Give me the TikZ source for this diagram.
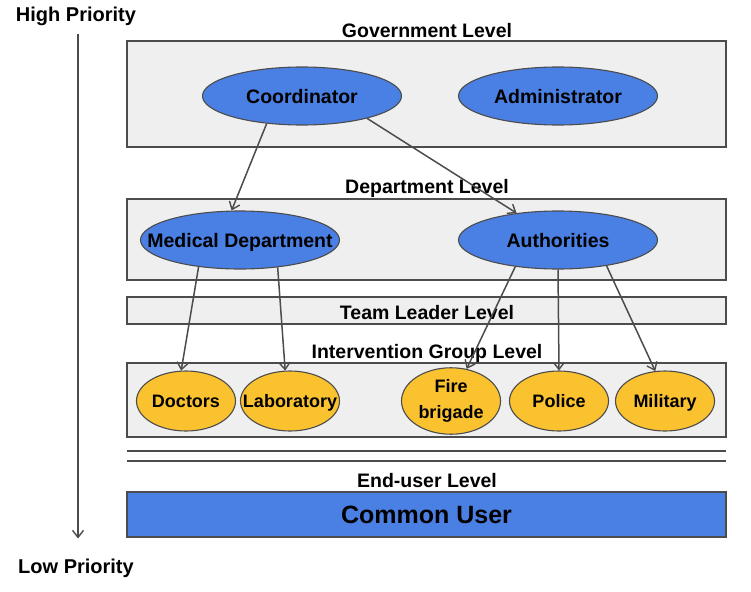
\documentclass[tikz,border=0pt]{standalone}
\usepackage{fontspec}
\setmainfont{Liberation Sans}
\usetikzlibrary{shapes.geometric,arrows.meta}
\definecolor{edge}{HTML}{4C4C4C}
\definecolor{panel}{HTML}{EFEFEF}
\definecolor{roleblue}{HTML}{4A80E4}
\definecolor{unityellow}{HTML}{FBC230}
% zero-size text box, capitals centred on the node centre, so the ellipse keeps its set size
\newcommand{\ctrtext}[1]{\makebox[0pt][c]{\raisebox{-0.36em}[0pt][0pt]{#1}}}
\tikzset{
  lbl/.style={font=\bfseries\fontsize{19.5}{23}\selectfont, inner sep=0pt},
  levelbox/.style={draw=edge, fill=panel, line width=1.3pt, minimum width=599pt, inner sep=0pt},
  role/.style={ellipse, draw=edge, fill=roleblue, line width=1.1pt, inner sep=0pt,
    minimum width=199pt, minimum height=58pt, font=\bfseries\fontsize{19.5}{23}\selectfont},
  unit/.style={ellipse, draw=edge, fill=unityellow, line width=1.1pt, inner sep=0pt,
    minimum width=99pt, minimum height=60pt, font=\bfseries\fontsize{18}{21}\selectfont},
  link/.style={draw=edge, line width=1.5pt, -{Straight Barb[length=7pt,width=11pt,line width=1.4pt]}}
}
\begin{document}
\begin{tikzpicture}[x=1pt,y=-1pt]
\useasboundingbox (0,0) rectangle (751,591);
\fill[white] (0,0) rectangle (751,591);

% priority axis
\node[lbl, font=\bfseries\fontsize{20}{24}\selectfont] (hp) at (76,16) {High Priority};
\node[lbl, font=\bfseries\fontsize{20}{24}\selectfont] (lp) at (76,568) {Low Priority};
\draw[link] ([xshift=2pt,yshift=-8pt]hp.south) -- ([xshift=2pt,yshift=20pt]lp.north);

% level panels
\node[levelbox, minimum height=106pt] (gov) at (426.5,94) {};
\node[levelbox, minimum height=81pt] (dept) at (426.5,239.5) {};
\node[levelbox, minimum height=27pt] (team) at (426.5,310.5) {};
\node[levelbox, minimum height=74pt] (interv) at (426.5,400) {};
\node[draw=edge, fill=roleblue, line width=1.3pt, minimum width=599pt, minimum height=45pt, inner sep=0pt,
      font=\bfseries\fontsize{25}{30}\selectfont] (common) at (426.5,514.5) {Common User};
\draw[edge, line width=1.3pt] (127,451) -- (726,451);
\draw[edge, line width=1.3pt] (127,461) -- (726,461);

% level titles
\node[lbl] (govt) at (427,31) {Government Level};
\node[lbl] (deptt) at (427,188) {Department Level};
\node[lbl] (teamt) at (427,313) {Team Leader Level};
\node[lbl] (intervt) at (427,353) {Intervention Group Level};
\node[lbl] (endt) at (427,481) {End-user Level};

% roles
\node[role] (coord) at (302,96) {\ctrtext{Coordinator}};
\node[role] (admin) at (558,96) {\ctrtext{Administrator}};
\node[role] (med) at (240,240) {\ctrtext{Medical Department}};
\node[role] (auth) at (558,240) {\ctrtext{Authorities}};

% intervention units
\node[unit] (doc) at (186,401) {\ctrtext{Doctors}};
\node[unit] (lab) at (290,401) {\ctrtext{Laboratory}};
\node[unit] (fire) at (451,401) {\makebox[0pt][c]{\raisebox{-3pt}{\begin{tabular}{@{}c@{}}Fire\\[5pt]brigade\end{tabular}}}};
\node[unit] (pol) at (559,401) {\ctrtext{Police}};
\node[unit] (mil) at (665,401) {\ctrtext{Military}};

% command links
\draw[link] (coord.218) -- (med.106);
\draw[link] (coord.-19) -- (auth.147);
\draw[link] (med.213) -- (doc.99);
\draw[link] (med.-36) -- (lab.99);
\draw[link] (auth.212) -- (fire.64);
\draw[link] (auth.270) -- (pol.90);
\draw[link] (auth.-28) -- (mil.108);
\end{tikzpicture}
\end{document}
